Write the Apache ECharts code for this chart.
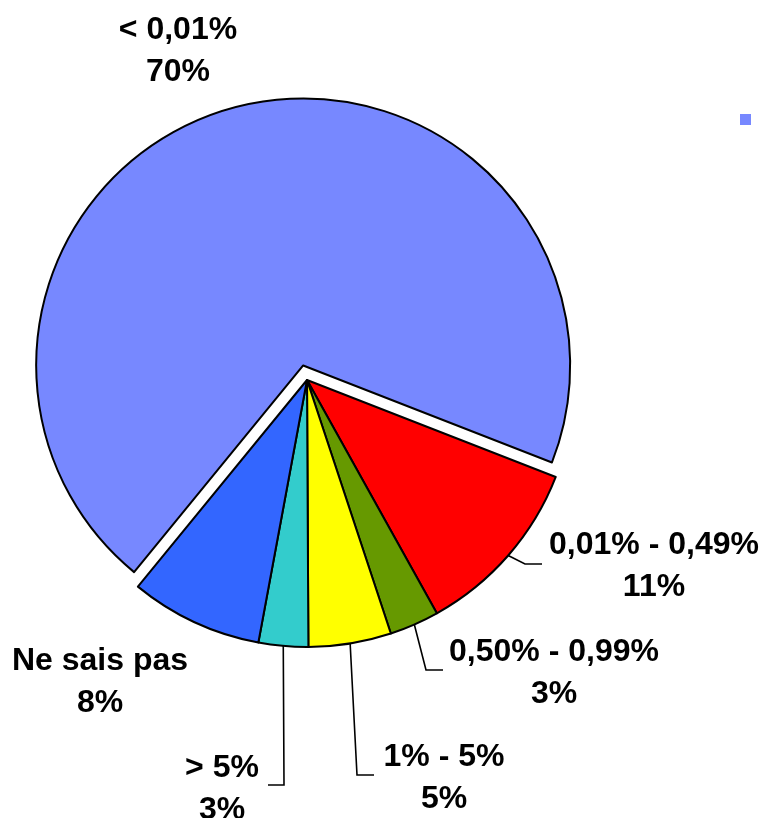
<!DOCTYPE html>
<html>
<head>
<meta charset="utf-8">
<style>
  html, body { margin: 0; padding: 0; background: #fff; }
  #chart { width: 763px; height: 818px; }
</style>
<script src="https://cdn.jsdelivr.net/npm/echarts@6/dist/echarts.min.js"></script>
</head>
<body>
<div id="chart"></div>
<script>
// Share of answers per range
const categories = ['< 0,01%', '0,01% - 0,49%', '0,50% - 0,99%', '1% - 5%', '> 5%', 'Ne sais pas'];
const shares = [70, 11, 3, 5, 3, 8];
const sliceColors = ['#7788FF', '#FF0000', '#669900', '#FFFF00', '#33CCCC', '#3366FF'];

// Label block centres and leader-line elbows (null = no leader line)
const labelSpots = [
  { x: 178, y: 51, line: null },
  { x: 654, y: 566, line: [[525, 564], [542, 564]] },
  { x: 554, y: 673, line: [[426, 670], [443, 670]] },
  { x: 444, y: 778, line: [[357, 775], [374, 775]] },
  { x: 222, y: 789, line: [[284, 785], [268, 785]] },
  { x: 100, y: 682, line: null }
];

const labelFont = {
  fontFamily: 'Liberation Sans, Arial, sans-serif',
  fontWeight: 'bold',
  fontSize: 32,
  lineHeight: 42,
  color: '#000'
};
const labelText = i => categories[i] + '\n' + shares[i] + '%';

const chart = echarts.init(document.getElementById('chart'), null, { renderer: 'canvas' });

const option = {
  animation: false,
  backgroundColor: '#ffffff',
  // the pulled-out slice carries its label as a free text block above the pie
  title: {
    text: labelText(0),
    left: labelSpots[0].x,
    top: labelSpots[0].y - 42,
    textAlign: 'center',
    padding: 0,
    textStyle: Object.assign({}, labelFont, { align: 'center' })
  },
  legend: {
    left: 740,
    top: 114,
    padding: 0,
    orient: 'vertical',
    icon: 'rect',
    itemWidth: 11,
    itemHeight: 11,
    itemGap: 0,
    selectedMode: false,
    data: [categories[0]],
    formatter: () => ' ',
    itemStyle: { borderWidth: 0 },
    textStyle: { fontSize: 10 }
  },
  series: [{
    type: 'pie',
    center: [307, 380],
    radius: 267,
    startAngle: 230.7,
    clockwise: true,
    avoidLabelOverlap: false,
    selectedMode: 'single',
    selectedOffset: 15,
    emphasis: { disabled: true },
    itemStyle: { borderColor: '#000', borderWidth: 2 },
    label: Object.assign({
      show: true,
      position: 'outside',
      formatter: p => labelText(p.dataIndex),
      align: 'center'
    }, labelFont),
    labelLine: {
      show: true,
      lineStyle: { color: '#000', width: 1.6 }
    },
    labelLayout: params => {
      const s = labelSpots[params.dataIndex];
      const out = { x: s.x, y: s.y, align: 'center', verticalAlign: 'middle' };
      if (s.line && params.labelLinePoints) {
        out.labelLinePoints = [params.labelLinePoints[0], s.line[0], s.line[1]];
      }
      return out;
    },
    data: categories.map((name, i) => ({
      name: name,
      value: shares[i],
      selected: i === 0,
      itemStyle: { color: sliceColors[i] },
      label: { show: i !== 0 },
      labelLine: { show: labelSpots[i].line !== null }
    }))
  }]
};

chart.setOption(option);
</script>
</body>
</html>
